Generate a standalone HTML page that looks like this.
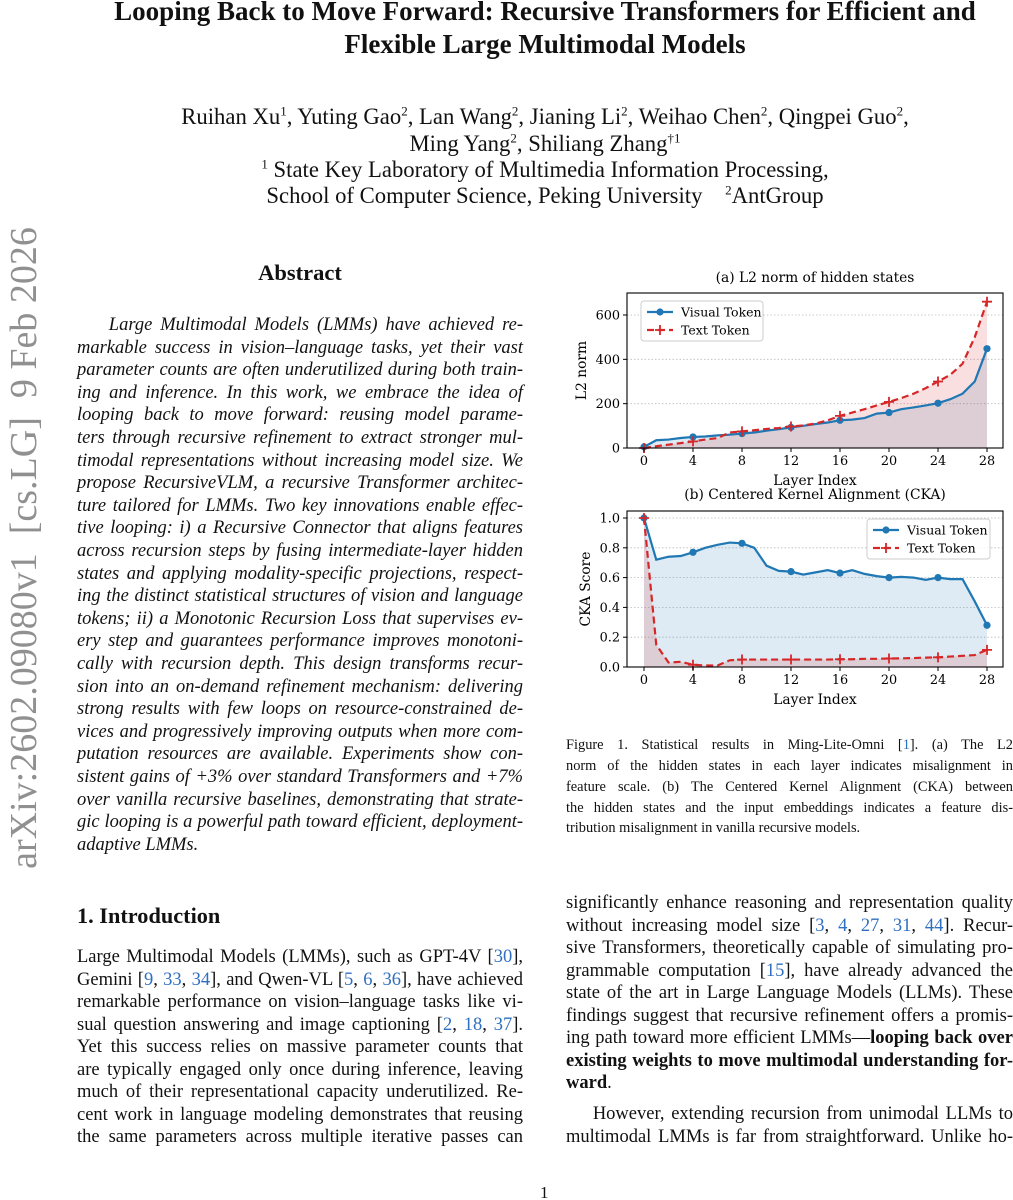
<!DOCTYPE html>
<html><head><meta charset="utf-8">
<style>
body{margin:0;background:#fff;}
#page{position:relative;width:1013px;height:1200px;overflow:hidden;background:#fff;font-family:"Liberation Serif",serif;color:#111;}
.ab{position:absolute;}
.t{position:absolute;left:77px;width:936px;text-align:center;font-weight:bold;font-size:27px;}
.c{position:absolute;left:77px;width:936px;text-align:center;font-size:22.7px;}
.ln{position:absolute;height:22px;line-height:22px;font-size:18.5px;white-space:nowrap;text-align:justify;text-align-last:justify;}
.ln.e{text-align-last:left;}
.L{left:77px;width:446px;}
.R{left:566px;width:447px;}
.it{font-style:italic;}
.cap{position:absolute;left:566px;width:447px;font-size:14.4px;height:20px;line-height:20px;white-space:nowrap;text-align:justify;text-align-last:justify;}
.cap.e{text-align-last:left;}
a,.lk{color:#2f6fc0;text-decoration:none;}
sup{font-size:13px;line-height:0;}
svg text{font-family:"DejaVu Serif","Liberation Serif",serif;}
</style></head>
<body>
<div id="page">
<div class="ab" style="left:24px;top:548px;width:0;height:0;"><div style="position:absolute;transform:translate(-50%,-50%) rotate(-90deg);white-space:nowrap;font-size:38px;color:#909090;">arXiv:2602.09080v1&nbsp; [cs.LG]&nbsp; 9 Feb 2026</div></div>

<div class="t" style="top:-5px;line-height:33px;">Looping Back to Move Forward: Recursive Transformers for Efficient and<br>Flexible Large Multimodal Models</div>

<div class="c" style="top:103px;line-height:27px;">Ruihan Xu<sup>1</sup>, Yuting Gao<sup>2</sup>, Lan Wang<sup>2</sup>, Jianing Li<sup>2</sup>, Weihao Chen<sup>2</sup>, Qingpei Guo<sup>2</sup>,<br>Ming Yang<sup>2</sup>, Shiliang Zhang<sup>†1</sup></div>
<div class="c" style="top:157px;line-height:26px;"><sup>1</sup> State Key Laboratory of Multimedia Information Processing,<br>School of Computer Science, Peking University &nbsp;&nbsp;&nbsp;<sup>2</sup>AntGroup</div>

<div class="ab" style="left:77px;width:446px;top:260px;text-align:center;font-weight:bold;font-size:22.5px;">Abstract</div>

<div class="it">
<div class="ln L" style="top:314px;">&nbsp;&nbsp;&nbsp;&nbsp;Large Multimodal Models (LMMs) have achieved re-</div>
<div class="ln L" style="top:336.6px;">markable success in vision–language tasks, yet their vast</div>
<div class="ln L" style="top:359.2px;">parameter counts are often underutilized during both train-</div>
<div class="ln L" style="top:381.8px;">ing and inference. In this work, we embrace the idea of</div>
<div class="ln L" style="top:404.4px;">looping back to move forward: reusing model parame-</div>
<div class="ln L" style="top:427px;">ters through recursive refinement to extract stronger mul-</div>
<div class="ln L" style="top:449.6px;">timodal representations without increasing model size. We</div>
<div class="ln L" style="top:472.2px;">propose RecursiveVLM, a recursive Transformer architec-</div>
<div class="ln L" style="top:494.8px;">ture tailored for LMMs. Two key innovations enable effec-</div>
<div class="ln L" style="top:517.4px;">tive looping: i) a Recursive Connector that aligns features</div>
<div class="ln L" style="top:540px;">across recursion steps by fusing intermediate-layer hidden</div>
<div class="ln L" style="top:562.6px;">states and applying modality-specific projections, respect-</div>
<div class="ln L" style="top:585.2px;">ing the distinct statistical structures of vision and language</div>
<div class="ln L" style="top:607.8px;">tokens; ii) a Monotonic Recursion Loss that supervises ev-</div>
<div class="ln L" style="top:630.4px;">ery step and guarantees performance improves monotoni-</div>
<div class="ln L" style="top:653px;">cally with recursion depth. This design transforms recur-</div>
<div class="ln L" style="top:675.6px;">sion into an on-demand refinement mechanism: delivering</div>
<div class="ln L" style="top:698.2px;">strong results with few loops on resource-constrained de-</div>
<div class="ln L" style="top:720.8px;">vices and progressively improving outputs when more com-</div>
<div class="ln L" style="top:743.4px;">putation resources are available. Experiments show con-</div>
<div class="ln L" style="top:766px;">sistent gains of +3% over standard Transformers and +7%</div>
<div class="ln L" style="top:788.6px;">over vanilla recursive baselines, demonstrating that strate-</div>
<div class="ln L" style="top:811.2px;">gic looping is a powerful path toward efficient, deployment-</div>
<div class="ln L e" style="top:833.8px;">adaptive LMMs.</div>
</div>

<div class="ab" style="left:77px;top:903px;font-weight:bold;font-size:22.3px;">1. Introduction</div>
<div>
<div class="ln L" style="top:946px;">Large Multimodal Models (LMMs), such as GPT-4V [<span class="lk">30</span>],</div>
<div class="ln L" style="top:968.5px;">Gemini [<span class="lk">9</span>, <span class="lk">33</span>, <span class="lk">34</span>], and Qwen-VL [<span class="lk">5</span>, <span class="lk">6</span>, <span class="lk">36</span>], have achieved</div>
<div class="ln L" style="top:991px;">remarkable performance on vision–language tasks like vi-</div>
<div class="ln L" style="top:1013.5px;">sual question answering and image captioning [<span class="lk">2</span>, <span class="lk">18</span>, <span class="lk">37</span>].</div>
<div class="ln L" style="top:1036px;">Yet this success relies on massive parameter counts that</div>
<div class="ln L" style="top:1058.5px;">are typically engaged only once during inference, leaving</div>
<div class="ln L" style="top:1081px;">much of their representational capacity underutilized. Re-</div>
<div class="ln L" style="top:1103.5px;">cent work in language modeling demonstrates that reusing</div>
<div class="ln L" style="top:1126px;">the same parameters across multiple iterative passes can</div>
</div>

<div>
<div class="ln R" style="top:892px;">significantly enhance reasoning and representation quality</div>
<div class="ln R" style="top:914.5px;">without increasing model size [<span class="lk">3</span>, <span class="lk">4</span>, <span class="lk">27</span>, <span class="lk">31</span>, <span class="lk">44</span>]. Recur-</div>
<div class="ln R" style="top:937px;">sive Transformers, theoretically capable of simulating pro-</div>
<div class="ln R" style="top:959.5px;">grammable computation [<span class="lk">15</span>], have already advanced the</div>
<div class="ln R" style="top:982px;">state of the art in Large Language Models (LLMs). These</div>
<div class="ln R" style="top:1004.5px;">findings suggest that recursive refinement offers a promis-</div>
<div class="ln R" style="top:1027px;">ing path toward more efficient LMMs—<b>looping back over</b></div>
<div class="ln R" style="top:1049.5px;"><b>existing weights to move multimodal understanding for-</b></div>
<div class="ln R e" style="top:1072px;"><b>ward</b>.</div>
<div class="ln R" style="top:1103px;">&nbsp;&nbsp;&nbsp;&nbsp;However, extending recursion from unimodal LLMs to</div>
<div class="ln R" style="top:1125.5px;">multimodal LMMs is far from straightforward. Unlike ho-</div>
</div>

<div>
<div class="cap" style="top:735px;">Figure 1. Statistical results in Ming-Lite-Omni [<span class="lk">1</span>]. (a) The L2</div>
<div class="cap" style="top:756px;">norm of the hidden states in each layer indicates misalignment in</div>
<div class="cap" style="top:777px;">feature scale. (b) The Centered Kernel Alignment (CKA) between</div>
<div class="cap" style="top:798px;">the hidden states and the input embeddings indicates a feature dis-</div>
<div class="cap e" style="top:818px;">tribution misalignment in vanilla recursive models.</div>
</div>

<div class="ab" style="left:540px;top:1183px;font-size:17px;">1</div>

<svg id="fig" width="1013" height="1200" style="position:absolute;left:0;top:0;pointer-events:none;"></svg>

<script>
// layers
const layers = [0,1,2,3,4,5,6,7,8,9,10,11,12,13,14,15,16,17,18,19,20,21,22,23,24,25,26,27,28];
const xTicks = [0,4,8,12,16,20,24,28];
// (a) L2 norm
const l2Visual = [5,35,38,45,50,52,57,60,65,70,78,85,93,100,108,115,125,128,135,155,160,175,183,192,202,220,245,300,448];
const l2Text = [0,8,15,22,30,38,45,70,75,80,86,90,97,102,110,125,145,160,175,192,208,225,245,270,300,330,380,500,660];
const l2Ticks = [0,200,400,600];
// (b) CKA
const ckaVisual = [1.0,0.72,0.74,0.745,0.77,0.80,0.82,0.835,0.83,0.80,0.68,0.645,0.64,0.62,0.635,0.65,0.63,0.65,0.625,0.61,0.60,0.605,0.60,0.585,0.60,0.59,0.59,0.44,0.28];
const ckaText = [1.0,0.15,0.03,0.035,0.015,0.01,0.01,0.045,0.05,0.05,0.05,0.05,0.05,0.05,0.05,0.05,0.052,0.052,0.055,0.055,0.057,0.058,0.06,0.063,0.065,0.07,0.075,0.08,0.115];
const ckaTicks = [0.0,0.2,0.4,0.6,0.8,1.0];

const NS="http://www.w3.org/2000/svg";
const svg=document.getElementById('fig');
function mk(tag,attrs,parent,txt){const e=document.createElementNS(NS,tag);for(const k in attrs)e.setAttribute(k,attrs[k]);if(txt!==undefined)e.textContent=txt;(parent||svg).appendChild(e);return e;}
const BLUE="#1f77b4", RED="#d62728";

function chart(cfg){
  const g=mk('g',{});
  
  
  const {x0,x1,top,bottom,y0px,y1px,vmin,vmax}=cfg;
  const sx=i=>x0+(i-0)*(x1-x0)/28;
  const sy=v=>y0px+(v-vmin)*(y1px-y0px)/(vmax-vmin);
  cfg.yTicks.forEach(v=>{
    const gl=mk('line',{x1:cfg.bl,x2:cfg.br,y1:sy(v),y2:sy(v),stroke:'#bbb','stroke-width':0.8,'stroke-dasharray':'1.5,2'},g);
    
    
  });
  function area(vals,fill,op,nm){
    let d='M'+sx(0)+','+sy(0);
    vals.forEach((v,i)=>d+=' L'+sx(i)+','+sy(v));
    d+=' L'+sx(28)+','+sy(0)+' Z';
    const p=mk('path',{d,fill,'fill-opacity':op,stroke:'none'},g);
    
    
  }
  area(cfg.vis,BLUE,cfg.visOp,'visual-area');
  area(cfg.txt,RED,0.15,'text-area');
  function line(vals,col,dash,nm){
    const pts=vals.map((v,i)=>sx(i)+','+sy(v)).join(' ');
    const a={points:pts,fill:'none',stroke:col,'stroke-width':2.2};
    if(dash)a['stroke-dasharray']='7,4';
    const p=mk('polyline',a,g);
    
    
  }
  line(cfg.vis,BLUE,false,'visual-token-line');
  line(cfg.txt,RED,true,'text-token-line');
  xTicks.forEach(i=>{
    const c=mk('circle',{cx:sx(i),cy:sy(cfg.vis[i]),r:3.6,fill:BLUE},g);
    
    
    const px=sx(i),py=sy(cfg.txt[i]);
    const m=mk('path',{d:`M${px-5},${py} L${px+5},${py} M${px},${py-5} L${px},${py+5}`,stroke:RED,'stroke-width':1.8},g);
    
    
  });
  const fr=mk('rect',{x:cfg.bl,y:top,width:cfg.br-cfg.bl,height:bottom-top,fill:'none',stroke:'#000','stroke-width':1.1},g);
  
  
  xTicks.forEach(i=>{
    mk('line',{x1:sx(i),x2:sx(i),y1:bottom,y2:bottom+4,stroke:'#000'},g);
    const t=mk('text',{x:sx(i),y:bottom+17,'text-anchor':'middle','font-size':12.8},g,String(i));
    
    
  });
  cfg.yTicks.forEach(v=>{
    mk('line',{x1:cfg.bl-4,x2:cfg.bl,y1:sy(v),y2:sy(v),stroke:'#000'},g);
    const t=mk('text',{x:cfg.bl-7,y:sy(v)+4.5,'text-anchor':'end','font-size':12.8},g,cfg.fmt(v));
    
    
  });
  const xl=mk('text',{x:(cfg.bl+cfg.br)/2,y:bottom+37,'text-anchor':'middle','font-size':13.8},g,'Layer Index');
  
  
  const yl=mk('text',{x:0,y:0,'text-anchor':'middle','font-size':13.8,transform:`translate(${cfg.ylx},${(top+bottom)/2}) rotate(-90)`},g,cfg.ylabel);
  
  
  const tt=mk('text',{x:(cfg.bl+cfg.br)/2,y:cfg.titleY,'text-anchor':'middle','font-size':13.8},g,cfg.title);
  
  
  const L=cfg.leg;
  const lg=mk('g',{},g);
  
  
  mk('rect',{x:L.x,y:L.y,width:L.w,height:40,rx:3,fill:'#fff','fill-opacity':0.85,stroke:'#ccc'},lg);
  mk('line',{x1:L.x+6,x2:L.x+32,y1:L.y+11,y2:L.y+11,stroke:BLUE,'stroke-width':2.2},lg);
  mk('circle',{cx:L.x+19,cy:L.y+11,r:3.6,fill:BLUE},lg);
  mk('text',{x:L.x+40,y:L.y+15.5,'font-size':12.5},lg,'Visual Token');
  mk('line',{x1:L.x+6,x2:L.x+32,y1:L.y+29,y2:L.y+29,stroke:RED,'stroke-width':2.2,'stroke-dasharray':'7,4'},lg);
  mk('path',{d:`M${L.x+14},${L.y+29} L${L.x+24},${L.y+29} M${L.x+19},${L.y+24} L${L.x+19},${L.y+34}`,stroke:RED,'stroke-width':1.8},lg);
  mk('text',{x:L.x+40,y:L.y+33.5,'font-size':12.5},lg,'Text Token');
}
chart({name:'l2-norm-chart',x0:644,x1:987,bl:627,br:1003,top:293,bottom:448,y0px:448,y1px:315,vmin:0,vmax:600,
  yTicks:l2Ticks,fmt:v=>String(v),vis:l2Visual,txt:l2Text,visOp:0.15,ylabel:'L2 norm',ylx:586,title:'(a) L2 norm of hidden states',titleY:282,
  leg:{x:641,y:301,w:122}});
chart({name:'cka-chart',x0:644,x1:987,bl:627,br:1003,top:511,bottom:667,y0px:667,y1px:518,vmin:0,vmax:1,
  yTicks:ckaTicks,fmt:v=>v.toFixed(1),vis:ckaVisual,txt:ckaText,visOp:0.15,ylabel:'CKA Score',ylx:590,title:'(b) Centered Kernel Alignment (CKA)',titleY:499,
  leg:{x:867,y:519,w:123}});
</script>
</div>
</body></html>
